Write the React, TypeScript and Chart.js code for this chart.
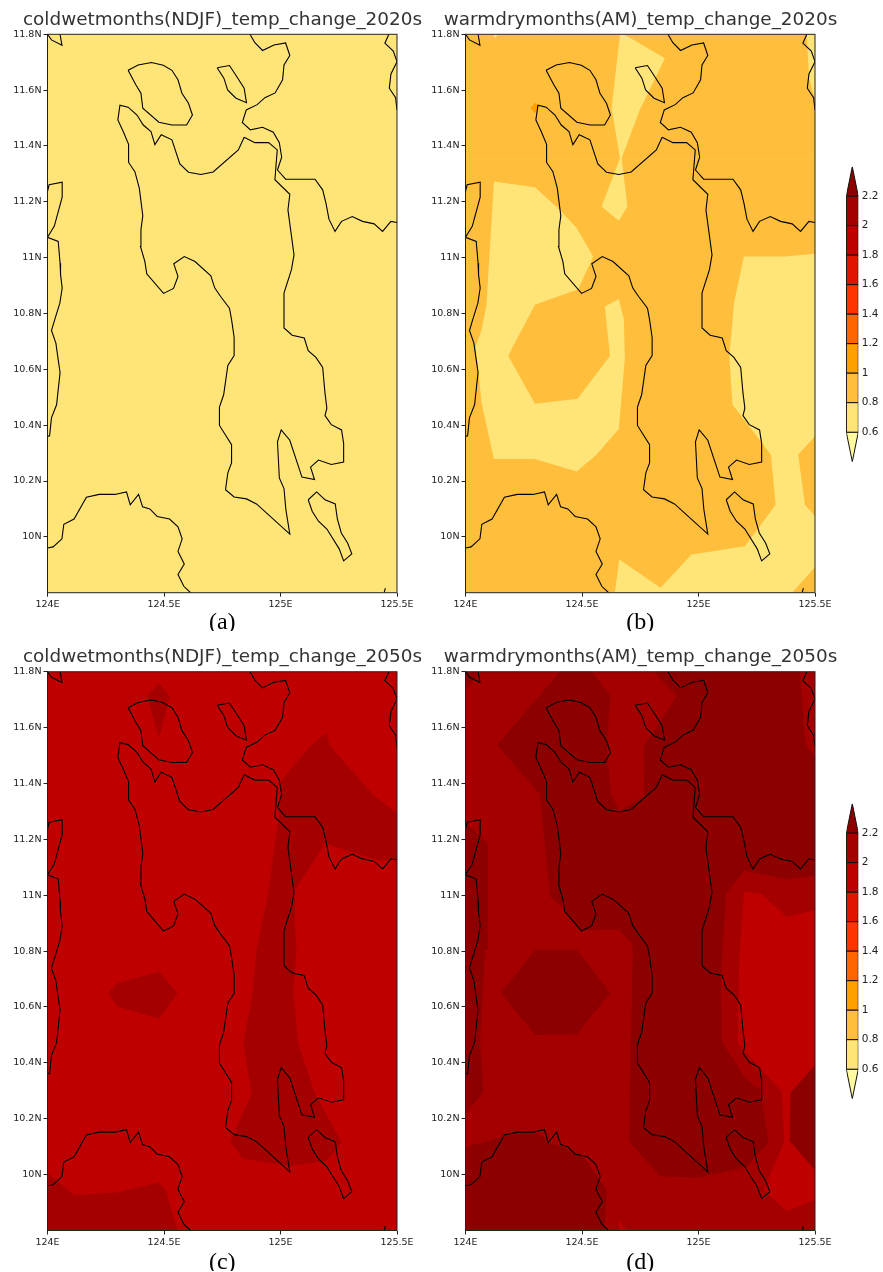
import React, { useEffect, useRef } from "react";
import { Chart, registerables } from "chart.js";

Chart.register(...registerables);

type Pt = [number, number];

// ---- axis ticks and colour levels ----
const lonTicks = [124, 124.5, 125, 125.5];
const latTicks = [10, 10.2, 10.4, 10.6, 10.8, 11, 11.2, 11.4, 11.6, 11.8];
const levels = [0.6, 0.8, 1, 1.2, 1.4, 1.6, 1.8, 2, 2.2];
const levelColors = ["#FFE478", "#FFBE3C", "#FF9F00", "#FF6400", "#FF3300", "#E11400", "#BE0000", "#A50000"];
const underColor = "#FFFAA0";
const overColor = "#8C0000";
const arrowLow = 0.4;
const arrowHigh = 2.4;

const C06 = levelColors[0];
const C08 = levelColors[1];
const C10 = levelColors[2];
const C18 = levelColors[6];
const C20 = levelColors[7];
const C22 = overColor;

// ---- map domain ----
const domain: Pt[] = [[124, 9.8], [125.5, 9.8], [125.5, 11.8], [124, 11.8], [124, 9.8]];

// ---- coastlines (lon, lat) ----
const coastA: Pt[] = [[124, 11.8], [124.017, 11.78], [124.062, 11.761], [124.054, 11.8]];
const coastB: Pt[] = [[124.869, 11.8], [124.89, 11.77], [124.923, 11.742], [124.972, 11.762], [125.022, 11.769], [125.04, 11.724], [125.015, 11.69], [125.009, 11.637], [124.977, 11.59], [124.933, 11.573], [124.9, 11.548], [124.853, 11.529], [124.836, 11.484], [124.871, 11.458], [124.923, 11.467], [124.969, 11.449], [124.995, 11.412], [125.005, 11.36], [124.987, 11.314], [125.022, 11.281], [125.148, 11.281], [125.181, 11.243], [125.195, 11.195], [125.208, 11.138], [125.234, 11.094], [125.262, 11.13], [125.308, 11.147], [125.352, 11.13], [125.402, 11.121], [125.438, 11.094], [125.474, 11.13], [125.5, 11.126]];
const coastC: Pt[] = [[124.844, 11.431], [124.89, 11.412], [124.949, 11.412], [124.986, 11.386], [124.976, 11.279], [125.04, 11.227], [125.032, 11.171], [125.058, 11.01], [125.047, 10.957], [125.015, 10.873], [125.015, 10.748], [125.05, 10.722], [125.102, 10.712], [125.119, 10.667], [125.152, 10.643], [125.181, 10.607], [125.191, 10.515], [125.199, 10.461], [125.191, 10.434], [125.218, 10.402], [125.262, 10.383], [125.271, 10.335], [125.271, 10.268], [125.218, 10.259], [125.163, 10.275], [125.129, 10.25], [125.146, 10.205], [125.092, 10.214], [125.04, 10.346], [125.003, 10.383], [124.987, 10.34], [124.995, 10.211], [125.015, 10.173], [125.023, 10.098], [125.04, 10.01], [124.897, 10.118], [124.854, 10.136], [124.801, 10.143], [124.764, 10.169], [124.774, 10.229], [124.79, 10.265], [124.79, 10.33], [124.738, 10.399], [124.738, 10.465], [124.756, 10.509], [124.774, 10.614], [124.801, 10.649], [124.801, 10.714], [124.79, 10.778], [124.781, 10.819], [124.743, 10.861], [124.718, 10.891], [124.701, 10.935], [124.633, 10.986], [124.587, 11.004], [124.542, 10.978], [124.56, 10.933], [124.541, 10.89], [124.498, 10.872], [124.426, 10.942], [124.418, 10.986], [124.399, 11.04], [124.401, 11.1], [124.409, 11.15], [124.394, 11.249], [124.375, 11.308], [124.348, 11.341], [124.348, 11.406], [124.325, 11.452], [124.302, 11.493], [124.311, 11.546], [124.346, 11.539], [124.384, 11.511], [124.411, 11.475], [124.444, 11.452], [124.461, 11.405], [124.488, 11.44], [124.534, 11.422], [124.568, 11.336], [124.605, 11.306], [124.658, 11.298], [124.711, 11.307], [124.819, 11.386], [124.844, 11.431]];
const coastD: Pt[] = [[124.346, 11.671], [124.389, 11.69], [124.446, 11.699], [124.497, 11.689], [124.534, 11.671], [124.56, 11.637], [124.577, 11.589], [124.605, 11.553], [124.622, 11.511], [124.597, 11.475], [124.534, 11.475], [124.478, 11.485], [124.409, 11.535], [124.401, 11.589], [124.379, 11.619], [124.346, 11.671]];
const coastE: Pt[] = [[124.728, 11.68], [124.781, 11.688], [124.814, 11.646], [124.844, 11.607], [124.854, 11.555], [124.809, 11.571], [124.773, 11.601], [124.757, 11.643], [124.728, 11.68]];
const coastF: Pt[] = [[125.465, 11.8], [125.448, 11.768], [125.484, 11.74], [125.5, 11.702], [125.474, 11.658], [125.467, 11.607], [125.494, 11.573], [125.5, 11.529]];
const coastG: Pt[] = [[124, 11.237], [124.007, 11.261], [124.063, 11.27], [124.063, 11.217], [124.029, 11.112], [124, 11.073], [124.046, 11.058], [124.054, 10.98], [124.056, 10.939], [124.063, 10.891], [124.053, 10.837], [124.031, 10.778], [124.017, 10.739], [124.036, 10.694], [124.046, 10.634], [124.054, 10.589], [124.039, 10.473], [124.017, 10.426], [124.009, 10.362], [124, 10.36]];
const coastH: Pt[] = [[124, 9.96], [124.024, 9.964], [124.062, 9.993], [124.07, 10.045], [124.114, 10.064], [124.167, 10.142], [124.222, 10.152], [124.289, 10.152], [124.339, 10.161], [124.355, 10.115], [124.391, 10.152], [124.408, 10.108], [124.439, 10.1], [124.471, 10.073], [124.524, 10.064], [124.56, 10.036], [124.578, 9.993], [124.56, 9.948], [124.587, 9.903], [124.56, 9.865], [124.585, 9.823], [124.614, 9.8]];
const coastI: Pt[] = [[125.119, 10.133], [125.155, 10.161], [125.191, 10.133], [125.235, 10.118], [125.244, 10.064], [125.261, 10.014], [125.288, 9.978], [125.306, 9.939], [125.271, 9.914], [125.252, 9.957], [125.199, 10.028], [125.163, 10.056], [125.136, 10.092], [125.119, 10.133]];
const coastJ: Pt[] = [[125.445, 9.8], [125.45, 9.816]];
const coasts = [coastA, coastB, coastC, coastD, coastE, coastF, coastG, coastH, coastI, coastJ];

// ---- contour bands, panel (b) ----
const b1: Pt[] = [[124.663, 11.8], [124.68, 11.8], [124.856, 11.714], [124.748, 11.529], [124.67, 11.356], [124.695, 11.183], [124.658, 11.132], [124.584, 11.183], [124.663, 11.356], [124.627, 11.535]];
const b2: Pt[] = [[124.122, 11.8], [124.145, 11.8], [124.122, 11.786]];
const b3: Pt[] = [[125.464, 11.8], [125.5, 11.8], [125.5, 11.565], [125.475, 11.643]];
const b4: Pt[] = [[124.122, 11.273], [124.298, 11.252], [124.405, 11.171], [124.477, 11.106], [124.548, 11.004], [124.484, 10.887], [124.298, 10.831], [124.183, 10.649], [124.298, 10.477], [124.481, 10.495], [124.62, 10.649], [124.598, 10.825], [124.658, 10.852], [124.68, 10.778], [124.684, 10.64], [124.658, 10.386], [124.562, 10.294], [124.477, 10.234], [124.298, 10.279], [124.122, 10.279], [124.069, 10.479], [124.044, 10.682], [124.069, 10.742], [124.09, 10.831]];
const b5: Pt[] = [[125.195, 11.004], [125.371, 11.004], [125.5, 11.014], [125.5, 10.36], [125.428, 10.294], [125.457, 10.115], [125.5, 10.074], [125.5, 9.891], [125.402, 9.8], [124.641, 9.8], [124.66, 9.919], [124.837, 9.818], [124.97, 9.937], [125.199, 9.966], [125.331, 10.115], [125.311, 10.294], [125.146, 10.473], [125.132, 10.646], [125.146, 10.772], [125.152, 10.837]];
const b6: Pt[] = [[124.298, 11.555], [124.316, 11.539], [124.298, 11.517], [124.279, 11.536]];

// ---- contour bands, panel (c) ----
const c1: Pt[] = [[124.429, 11.713], [124.478, 11.758], [124.525, 11.713], [124.478, 11.559]];
const c2: Pt[] = [[125.198, 11.582], [125.212, 11.534], [125.398, 11.359], [125.5, 11.293], [125.5, 11.126], [125.412, 11.126], [125.191, 11.186], [125.062, 11.019], [125.062, 10.899], [125.069, 10.804], [125.055, 10.649], [125.076, 10.47], [125.148, 10.291], [125.262, 10.114], [125.198, 10.05], [125.04, 10.031], [124.84, 10.058], [124.783, 10.118], [124.876, 10.291], [124.84, 10.47], [124.88, 10.649], [124.897, 10.804], [124.947, 11.007], [124.99, 11.269], [125.005, 11.412], [125.126, 11.532]];
const c3: Pt[] = [[124.26, 10.649], [124.299, 10.685], [124.478, 10.726], [124.558, 10.649], [124.478, 10.557], [124.299, 10.603]];
const c4: Pt[] = [[124, 10.005], [124.117, 9.925], [124.303, 9.937], [124.478, 9.972], [124.511, 9.939], [124.557, 9.8], [124, 9.8]];

// ---- contour bands, panel (d) ----
const d1: Pt[] = [[124.406, 11.8], [124.542, 11.8], [124.621, 11.713], [124.607, 11.526], [124.624, 11.365], [124.66, 11.301], [124.767, 11.353], [124.764, 11.534], [124.907, 11.713], [124.807, 11.8], [125.437, 11.8], [125.458, 11.544], [125.5, 11.496], [125.5, 11.07], [125.379, 11.058], [125.196, 11.088], [125.119, 11.007], [125.1, 10.768], [125.096, 10.649], [125.1, 10.476], [125.201, 10.345], [125.265, 10.303], [125.301, 10.118], [125.208, 10.028], [125.007, 9.99], [124.836, 9.993], [124.701, 10.12], [124.718, 10.804], [124.714, 10.828], [124.657, 10.878], [124.492, 10.875], [124.428, 10.945], [124.363, 10.995], [124.318, 11.362], [124.135, 11.538]];
const d2: Pt[] = [[124.152, 10.651], [124.299, 10.804], [124.478, 10.804], [124.621, 10.651], [124.478, 10.502], [124.299, 10.5]];
const d3a: Pt[] = [[124, 11.8], [124.063, 11.8], [124, 11.734]];
const d3b: Pt[] = [[124, 11.263], [124.096, 11.183], [124.096, 10.804], [124.084, 10.804], [124.063, 10.482], [124.077, 10.297], [124, 10.213]];
const d4: Pt[] = [[124, 10.1], [124.106, 10.122], [124.22, 10.154], [124.306, 10.154], [124.363, 10.112], [124.442, 10.094], [124.507, 10.064], [124.607, 9.945], [124.597, 9.8], [124, 9.8]];
const d5: Pt[] = [[125.5, 10.392], [125.394, 10.293], [125.391, 10.12], [125.5, 10.016]];
const d6: Pt[] = [[125.196, 11.013], [125.269, 11.004], [125.379, 10.923], [125.5, 10.947], [125.5, 10.392], [125.394, 10.293], [125.391, 10.12], [125.5, 10.016], [125.5, 9.909], [125.379, 9.87], [125.279, 9.945], [125.368, 10.118], [125.358, 10.297], [125.168, 10.47], [125.175, 10.78]];
const d7: Pt[] = [[124.66, 9.835], [124.693, 9.8], [124.66, 9.8]];

// faint grid seam visible across panels (b) and (c)
const seam: Pt[] = [[124, 11.356], [125.5, 11.356]];

const titles = [
  "coldwetmonths(NDJF)_temp_change_2020s",
  "warmdrymonths(AM)_temp_change_2020s",
  "coldwetmonths(NDJF)_temp_change_2050s",
  "warmdrymonths(AM)_temp_change_2050s",
];
const captions = ["(a)", "(b)", "(c)", "(d)"];

const layersA: [string, Pt[]][] = [[C06, domain]];
const layersB: [string, Pt[]][] = [[C08, domain], [C06, b1], [C06, b2], [C06, b3], [C06, b4], [C06, b5], [C10, b6]];
const layersC: [string, Pt[]][] = [[C18, domain], [C20, c1], [C20, c2], [C20, c3], [C20, c4]];
const layersD: [string, Pt[]][] = [[C20, domain], [C22, d1], [C22, d2], [C22, d3a], [C22, d3b], [C22, d4], [C22, d5], [C18, d6], [C18, d7]];

const tickFont = { family: "'DejaVu Sans'", size: 9.5 };

const zeroPad = (s: any) => {
  s.paddingLeft = 0;
  s.paddingRight = 0;
  s.paddingTop = 0;
  s.paddingBottom = 0;
};

const framePlugin = {
  id: "frame",
  afterDraw(chart: any) {
    const { ctx, chartArea: a } = chart;
    ctx.save();
    ctx.strokeStyle = "#222";
    ctx.lineWidth = 1;
    ctx.strokeRect(a.left, a.top, a.right - a.left, a.bottom - a.top);
    ctx.restore();
  },
};

const toXY = (pts: Pt[]) => pts.map(([x, y]) => ({ x, y }));

type PanelProps = {
  left: number;
  top: number;
  height: number;
  plotTop: number;
  plotBottom: number;
  plotLeft: number;
  title: string;
  caption: string;
  layers: [string, Pt[]][];
  seamColor?: string;
};

function Panel({ left, top, height, plotTop, plotBottom, plotLeft, title, caption, layers, seamColor }: PanelProps) {
  const ref = useRef<HTMLCanvasElement>(null);
  useEffect(() => {
    const width = 445;
    const axisLeft = plotLeft - left;
    const axisRight = width - axisLeft - 349.5;
    const titleBox = plotTop - top;
    const axisBottom = top + height - plotBottom;
    const lineHeight = 18.4 * 1.2;
    const fills = layers.map(([color, pts], i) => ({
      data: toXY(pts),
      showLine: true,
      borderWidth: 0,
      borderColor: color,
      backgroundColor: color,
      fill: "shape",
      pointRadius: 0,
      tension: 0,
      order: 100 - i,
      xAxisID: "x",
      yAxisID: "y",
    }));
    const seams = seamColor
      ? [
          {
            data: toXY(seam),
            showLine: true,
            borderWidth: 1,
            borderColor: seamColor,
            fill: false,
            pointRadius: 0,
            tension: 0,
            order: 99.5,
            xAxisID: "x",
            yAxisID: "y",
          },
        ]
      : [];
    const lines = coasts.map((pts) => ({
      data: toXY(pts),
      showLine: true,
      borderWidth: 1.1,
      borderColor: "#000",
      backgroundColor: "#000",
      fill: false,
      pointRadius: 0,
      tension: 0,
      order: 0,
      xAxisID: "x",
      yAxisID: "y",
    }));
    const titleTop = titleBox - 25.2;
    const chart = new Chart(ref.current!, {
      type: "scatter",
      data: { datasets: [...fills, ...seams, ...lines] as any },
      plugins: [framePlugin],
      options: {
        animation: false,
        responsive: false,
        devicePixelRatio: 1,
        events: [],
        layout: { padding: 0 },
        plugins: {
          legend: { display: false },
          tooltip: { enabled: false },
          title: {
            display: true,
            text: title,
            color: "#333",
            font: { family: "'DejaVu Sans'", size: 18.4, weight: "normal", lineHeight: 1.2 },
            padding: { top: titleTop, bottom: titleBox - titleTop - lineHeight },
          },
        },
        scales: {
          x: {
            type: "linear",
            position: "bottom",
            min: 124,
            max: 125.5,
            afterBuildTicks: (s: any) => {
              s.ticks = lonTicks.map((value) => ({ value }));
            },
            afterFit: (s: any) => {
              s.height = axisBottom;
              zeroPad(s);
            },
            ticks: {
              autoSkip: false,
              maxRotation: 0,
              padding: 2,
              color: "#222",
              font: tickFont,
              callback: (v: any) => `${v}E`,
            },
            grid: { drawOnChartArea: false, tickLength: 4, tickColor: "#222", tickWidth: 1 },
            border: { display: false },
            title: {
              display: true,
              text: caption,
              color: "#000",
              font: { family: "'Liberation Serif'", size: 24, lineHeight: 1 },
              padding: { top: 0, bottom: -3.5 },
            },
          },
          y: {
            type: "linear",
            position: "left",
            min: 9.8,
            max: 11.8,
            afterBuildTicks: (s: any) => {
              s.ticks = latTicks.map((value) => ({ value }));
            },
            afterFit: (s: any) => {
              s.width = axisLeft;
              zeroPad(s);
            },
            ticks: {
              autoSkip: false,
              padding: 2,
              color: "#222",
              font: tickFont,
              callback: (v: any) => `${v}N`,
            },
            grid: { drawOnChartArea: false, tickLength: 4, tickColor: "#222", tickWidth: 1 },
            border: { display: false },
          },
          spacer: {
            type: "linear",
            position: "right",
            afterFit: (s: any) => {
              s.width = axisRight;
              zeroPad(s);
            },
            ticks: { display: false },
            grid: { display: false },
            border: { display: false },
          },
        },
      } as any,
    });
    return () => chart.destroy();
  }, []);
  return (
    <canvas
      ref={ref}
      width={445}
      height={height}
      style={{ position: "absolute", left, top, width: 445, height, display: "block" }}
    />
  );
}

function ColorBar({ top }: { top: number }) {
  const ref = useRef<HTMLCanvasElement>(null);
  useEffect(() => {
    const shape = (pts: Pt[], color: string) => ({
      data: toXY(pts),
      showLine: true,
      borderWidth: 1,
      borderColor: "#111",
      backgroundColor: color,
      fill: "shape",
      pointRadius: 0,
      tension: 0,
    });
    const boxes = levelColors.map((color, i) =>
      shape(
        [[0, levels[i]], [1, levels[i]], [1, levels[i + 1]], [0, levels[i + 1]], [0, levels[i]]],
        color
      )
    );
    const under = shape([[0, levels[0]], [0.5, arrowLow], [1, levels[0]], [0, levels[0]]], underColor);
    const over = shape(
      [[0, levels[8]], [0.5, arrowHigh], [1, levels[8]], [0, levels[8]]],
      overColor
    );
    const chart = new Chart(ref.current!, {
      type: "scatter",
      data: { datasets: [...boxes, under, over] as any },
      options: {
        animation: false,
        responsive: false,
        devicePixelRatio: 1,
        events: [],
        layout: { padding: { left: 6.3, top: 6.7, bottom: 8.3, right: 0 } },
        plugins: { legend: { display: false }, tooltip: { enabled: false }, title: { display: false } },
        scales: {
          x: { type: "linear", min: 0, max: 1, display: false },
          y: {
            type: "linear",
            position: "right",
            min: arrowLow,
            max: arrowHigh,
            afterBuildTicks: (s: any) => {
              s.ticks = levels.map((value) => ({ value }));
            },
            afterFit: (s: any) => {
              s.width = 24.7;
              zeroPad(s);
            },
            ticks: {
              autoSkip: false,
              padding: 3.5,
              color: "#222",
              font: { family: "'DejaVu Sans'", size: 10.5 },
              callback: (v: any) => `${v}`,
            },
            grid: { display: false, drawTicks: false },
            border: { display: false },
          },
        },
      } as any,
    });
    return () => chart.destroy();
  }, []);
  return (
    <canvas
      ref={ref}
      width={43}
      height={310}
      style={{ position: "absolute", left: 840, top, width: 43, height: 310, display: "block" }}
    />
  );
}

export default function App() {
  return (
    <div style={{ position: "absolute", left: 0, top: 0, width: 883, height: 1272, overflow: "hidden", background: "#fff" }}>
      <Panel left={0} top={0} height={631} plotTop={34.3} plotBottom={592.7} plotLeft={47.5} title={titles[0]} caption={captions[0]} layers={layersA} />
      <Panel left={418} top={0} height={631} plotTop={34.3} plotBottom={592.7} plotLeft={465.5} title={titles[1]} caption={captions[1]} layers={layersB} seamColor="#FFC24A" />
      <Panel left={0} top={638} height={633} plotTop={671.7} plotBottom={1230.5} plotLeft={47.5} title={titles[2]} caption={captions[2]} layers={layersC} seamColor="#C20400" />
      <Panel left={418} top={638} height={633} plotTop={671.7} plotBottom={1230.5} plotLeft={465.5} title={titles[3]} caption={captions[3]} layers={layersD} />
      <ColorBar top={160} />
      <ColorBar top={796.6} />
    </div>
  );
}
